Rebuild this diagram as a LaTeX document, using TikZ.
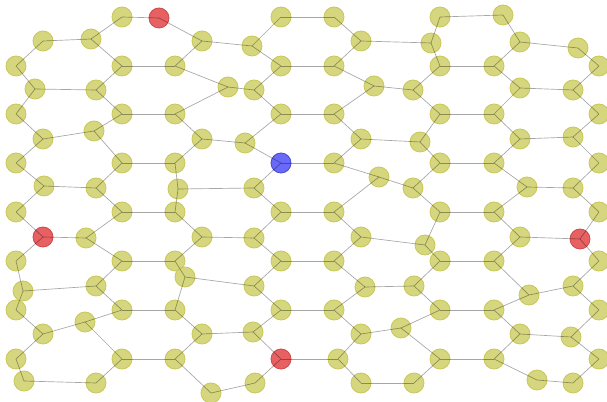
\documentclass[tikz,border=0pt]{standalone}
\definecolor{siteyellow}{RGB}{212,212,120}
\definecolor{siteedge}{RGB}{200,200,90}
\definecolor{sitered}{RGB}{228,80,82}
\definecolor{siteblue}{RGB}{90,90,250}

\begin{document}
\begin{tikzpicture}[x=0.75pt,y=-0.75pt,
  site/.style={circle,draw=siteedge,fill=siteyellow,line width=0.6pt,inner sep=0pt,minimum size=15pt,fill opacity=.95},
  redsite/.style={site,draw=sitered!90!black,fill=sitered,fill opacity=.9},
  bluesite/.style={site,draw=siteblue!80!black,fill=siteblue,fill opacity=.9},
  link/.style={draw=black,draw opacity=.35,line width=0.5pt}]
\useasboundingbox (0,0) rectangle (607,402);

% straight columns
\foreach \y [count=\i from 1] in {66,114,163,212,261,310,359}
  \node[site] (c0r\i) at (16,\y) {};
\foreach \y [count=\i from 1] in {66,114,163,212,261,310,359}
  \node[site] (c15r\i) at (599,\y) {};
\foreach \y [count=\i from 0] in {17,66,114,163,212,261,310,359}
  \node[site] (c3r\i) at (122,\y) {};
\foreach \y [count=\i from 0] in {17,66,114,163,212,261,310,359}
  \node[site] (c11r\i) at (440,\y) {};

% bent columns
\foreach \x/\y/\s [count=\i from 0] in {43/41/site,35/89/site,43/139/site,44/186/site,43/237/redsite,23/291/site,43/334/site,24/381/site}
  \node[\s] (c1r\i) at (\x,\y) {};
\foreach \x/\y [count=\i from 0] in {91/39,96/90,94/131,96/188,86/238,96/286,85/322,96/383}
  \node[site] (c2r\i) at (\x,\y) {};
\foreach \x/\y/\s [count=\i from 0] in {159/18/redsite,175/66/site,175/114/site,175/163/site,175/212/site,175/261/site,175/310/site,175/359/site}
  \node[\s] (c4r\i) at (\x,\y) {};
\foreach \x/\y [count=\i from 0] in {202/41,228/87,202/139,178/189,202/237,185/277,202/334,211/393}
  \node[site] (c5r\i) at (\x,\y) {};
\foreach \x/\y [count=\i from 0] in {252/46,254/90,245/143,254/188,254/238,254/286,253/332,255/383}
  \node[site] (c6r\i) at (\x,\y) {};
\foreach \x/\y/\s [count=\i from 0] in {281/17/site,281/66/site,281/114/site,281/163/bluesite,281/212/site,281/261/site,281/310/site,281/359/redsite}
  \node[\s] (c7r\i) at (\x,\y) {};
\foreach \x/\y [count=\i from 0] in {334/17,334/66,334/114,334/163,334/212,334/261,334/310,338/359}
  \node[site] (c8r\i) at (\x,\y) {};
\foreach \x/\y [count=\i from 0] in {361/41,374/86,361/139,379/177,361/237,365/287,361/334,361/383}
  \node[site] (c9r\i) at (\x,\y) {};
\foreach \x/\y [count=\i from 0] in {431/43,413/90,420/142,413/188,425/245,414/286,401/328,414/383}
  \node[site] (c10r\i) at (\x,\y) {};
\foreach \x/\y [count=\i from 0] in {503/15,494/66,494/114,494/163,494/212,494/261,494/310,494/359}
  \node[site] (c12r\i) at (\x,\y) {};
\foreach \x/\y [count=\i from 0] in {520/42,520/88,520/139,527/187,520/237,529/295,520/334,537/380}
  \node[site] (c13r\i) at (\x,\y) {};
\foreach \x/\y/\s [count=\i from 0] in {578/48/site,573/90/site,573/137/site,573/188/site,580/239/redsite,573/286/site,571/337/site,573/383/site}
  \node[\s] (c14r\i) at (\x,\y) {};

% zigzag bonds
\foreach \a/\b in {c0/c1,c3/c2,c4/c5,c7/c6,c8/c9,c11/c10,c12/c13,c15/c14}
  \foreach \i/\j in {1/0,2/1,3/2,4/3,5/4,6/5,7/6}
    \draw[link] (\a r\i.center) -- (\b r\i.center) (\a r\i.center) -- (\b r\j.center);
\foreach \a/\b in {c3/c2,c4/c5,c7/c6,c8/c9,c11/c10,c12/c13}
  \draw[link] (\a r0.center) -- (\b r0.center);

% straight bonds
\foreach \a/\b in {c1/c2,c3/c4,c5/c6,c7/c8,c9/c10,c11/c12,c13/c14}
  \foreach \i in {0,...,7}
    \draw[link] (\a r\i.center) -- (\b r\i.center);

\end{tikzpicture}
\end{document}
